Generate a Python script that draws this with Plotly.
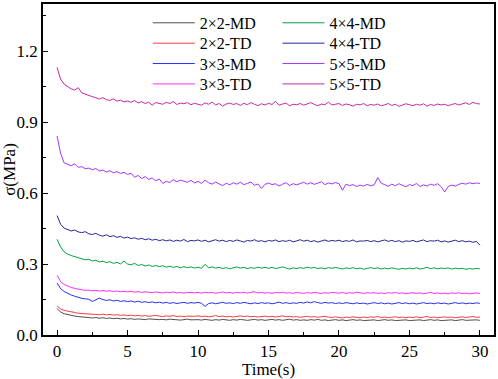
import numpy as np
import plotly.graph_objects as go

time = [round(v, 2) for v in np.arange(0, 30.001, 0.25)]

md2 = [0.112, 0.097, 0.090, 0.086, 0.082, 0.080, 0.078, 0.076, 0.075, 0.074,
       0.072, 0.074, 0.071, 0.073, 0.070, 0.072, 0.069, 0.071, 0.068, 0.070,
       0.067, 0.069, 0.066, 0.068, 0.067, 0.065, 0.068, 0.066, 0.067, 0.065,
       0.066, 0.064, 0.067, 0.065, 0.066, 0.063, 0.065, 0.067, 0.064, 0.066,
       0.065, 0.063, 0.066, 0.064, 0.062, 0.065, 0.063, 0.066, 0.064, 0.062,
       0.065, 0.063, 0.066, 0.064, 0.062, 0.064, 0.066, 0.063, 0.065, 0.062,
       0.064, 0.066, 0.063, 0.065, 0.062, 0.064, 0.067, 0.063, 0.065, 0.062,
       0.064, 0.062, 0.065, 0.063, 0.066, 0.062, 0.064, 0.061, 0.063, 0.065,
       0.062, 0.064, 0.061, 0.063, 0.065, 0.062, 0.064, 0.061, 0.063, 0.062,
       0.064, 0.061, 0.063, 0.065, 0.062, 0.064, 0.061, 0.063, 0.062, 0.064,
       0.061, 0.063, 0.062, 0.064, 0.061, 0.063, 0.065, 0.062, 0.064, 0.061,
       0.063, 0.062, 0.064, 0.061, 0.063, 0.065, 0.062, 0.063, 0.061, 0.064,
       0.062]

td2 = [0.123, 0.110, 0.104, 0.100, 0.097, 0.095, 0.092, 0.091, 0.089, 0.090,
       0.087, 0.089, 0.086, 0.088, 0.085, 0.087, 0.084, 0.086, 0.083, 0.085,
       0.082, 0.084, 0.081, 0.083, 0.080, 0.082, 0.079, 0.081, 0.083, 0.080,
       0.078, 0.081, 0.079, 0.082, 0.078, 0.080, 0.077, 0.080, 0.078, 0.079,
       0.081, 0.078, 0.080, 0.077, 0.079, 0.082, 0.078, 0.080, 0.077, 0.079,
       0.076, 0.079, 0.081, 0.078, 0.080, 0.077, 0.079, 0.076, 0.078, 0.080,
       0.077, 0.079, 0.076, 0.078, 0.081, 0.077, 0.079, 0.076, 0.078, 0.075,
       0.077, 0.079, 0.076, 0.078, 0.075, 0.077, 0.079, 0.076, 0.074, 0.077,
       0.075, 0.072, 0.076, 0.074, 0.077, 0.075, 0.073, 0.076, 0.074, 0.077,
       0.075, 0.078, 0.074, 0.076, 0.073, 0.075, 0.077, 0.074, 0.076, 0.073,
       0.076, 0.074, 0.077, 0.073, 0.075, 0.078, 0.074, 0.076, 0.073, 0.075,
       0.077, 0.074, 0.076, 0.073, 0.075, 0.077, 0.074, 0.076, 0.078, 0.075,
       0.076]

md3 = [0.220, 0.196, 0.184, 0.176, 0.169, 0.164, 0.158, 0.155, 0.153, 0.151,
       0.142, 0.149, 0.156, 0.150, 0.146, 0.149, 0.144, 0.147, 0.142, 0.145,
       0.141, 0.144, 0.139, 0.143, 0.138, 0.141, 0.137, 0.140, 0.136, 0.139,
       0.135, 0.138, 0.134, 0.137, 0.133, 0.136, 0.138, 0.134, 0.137, 0.135,
       0.138, 0.134, 0.121, 0.133, 0.136, 0.132, 0.135, 0.138, 0.134, 0.136,
       0.133, 0.137, 0.134, 0.138, 0.135, 0.132, 0.136, 0.133, 0.137, 0.134,
       0.136, 0.132, 0.135, 0.139, 0.134, 0.137, 0.133, 0.136, 0.134, 0.138,
       0.135, 0.140, 0.136, 0.141, 0.137, 0.134, 0.138, 0.135, 0.137, 0.133,
       0.136, 0.133, 0.137, 0.134, 0.132, 0.136, 0.133, 0.135, 0.131, 0.134,
       0.137, 0.133, 0.136, 0.132, 0.135, 0.131, 0.134, 0.137, 0.133, 0.136,
       0.132, 0.135, 0.131, 0.134, 0.137, 0.133, 0.135, 0.132, 0.136, 0.133,
       0.135, 0.131, 0.134, 0.137, 0.133, 0.136, 0.132, 0.135, 0.133, 0.136,
       0.134]

td3 = [0.253, 0.226, 0.214, 0.206, 0.201, 0.197, 0.193, 0.191, 0.189, 0.190,
       0.187, 0.189, 0.186, 0.188, 0.185, 0.187, 0.184, 0.186, 0.183, 0.185,
       0.182, 0.185, 0.181, 0.184, 0.180, 0.183, 0.181, 0.179, 0.182, 0.180,
       0.178, 0.181, 0.179, 0.182, 0.178, 0.180, 0.177, 0.181, 0.179, 0.178,
       0.180, 0.177, 0.181, 0.178, 0.180, 0.176, 0.179, 0.182, 0.178, 0.180,
       0.177, 0.180, 0.178, 0.181, 0.177, 0.179, 0.183, 0.178, 0.180, 0.177,
       0.179, 0.176, 0.180, 0.178, 0.181, 0.177, 0.179, 0.176, 0.180, 0.178,
       0.176, 0.179, 0.177, 0.180, 0.178, 0.176, 0.179, 0.177, 0.180, 0.178,
       0.177, 0.180, 0.176, 0.179, 0.177, 0.181, 0.178, 0.176, 0.179, 0.177,
       0.179, 0.176, 0.178, 0.175, 0.179, 0.177, 0.180, 0.176, 0.178, 0.175,
       0.177, 0.179, 0.176, 0.178, 0.175, 0.177, 0.180, 0.176, 0.178, 0.175,
       0.177, 0.174, 0.178, 0.176, 0.179, 0.175, 0.177, 0.174, 0.176, 0.178,
       0.176]

md4 = [0.405, 0.372, 0.352, 0.342, 0.336, 0.331, 0.325, 0.322, 0.318, 0.320,
       0.313, 0.316, 0.309, 0.312, 0.306, 0.310, 0.303, 0.307, 0.301, 0.313,
       0.300, 0.297, 0.303, 0.294, 0.298, 0.292, 0.296, 0.290, 0.294, 0.289,
       0.293, 0.287, 0.291, 0.286, 0.290, 0.284, 0.289, 0.285, 0.288, 0.283,
       0.287, 0.282, 0.299, 0.284, 0.288, 0.283, 0.286, 0.281, 0.285, 0.280,
       0.284, 0.288, 0.283, 0.286, 0.281, 0.285, 0.282, 0.287, 0.283, 0.286,
       0.282, 0.286, 0.281, 0.285, 0.288, 0.283, 0.279, 0.284, 0.281, 0.285,
       0.282, 0.287, 0.283, 0.286, 0.281, 0.284, 0.280, 0.285, 0.282, 0.286,
       0.283, 0.279, 0.284, 0.281, 0.285, 0.280, 0.283, 0.278, 0.282, 0.285,
       0.281, 0.284, 0.279, 0.283, 0.280, 0.284, 0.281, 0.278, 0.282, 0.279,
       0.283, 0.280, 0.284, 0.279, 0.282, 0.286, 0.281, 0.284, 0.280, 0.283,
       0.281, 0.284, 0.279, 0.283, 0.280, 0.282, 0.278, 0.281, 0.279, 0.282,
       0.280]

td4 = [0.505, 0.468, 0.452, 0.446, 0.440, 0.444, 0.436, 0.433, 0.437, 0.428,
       0.425, 0.430, 0.422, 0.418, 0.424, 0.416, 0.420, 0.413, 0.417, 0.410,
       0.414, 0.408, 0.411, 0.405, 0.409, 0.403, 0.407, 0.401, 0.405, 0.399,
       0.403, 0.398, 0.402, 0.396, 0.401, 0.397, 0.404, 0.395, 0.400, 0.398,
       0.402, 0.396, 0.401, 0.394, 0.399, 0.403, 0.397, 0.401, 0.395, 0.400,
       0.396, 0.402, 0.398, 0.393, 0.400, 0.397, 0.403, 0.396, 0.399, 0.394,
       0.400, 0.397, 0.402, 0.395, 0.399, 0.396, 0.401, 0.394, 0.398, 0.403,
       0.397, 0.401, 0.395, 0.399, 0.393, 0.398, 0.402, 0.396, 0.400, 0.397,
       0.401, 0.395, 0.399, 0.396, 0.402, 0.394, 0.398, 0.397, 0.400, 0.395,
       0.399, 0.394, 0.398, 0.402, 0.396, 0.400, 0.395, 0.399, 0.393, 0.398,
       0.396, 0.400, 0.394, 0.398, 0.402, 0.395, 0.399, 0.397, 0.401, 0.394,
       0.398, 0.393, 0.397, 0.401, 0.395, 0.399, 0.394, 0.397, 0.392, 0.396,
       0.380]

md5 = [0.842, 0.768, 0.728, 0.722, 0.716, 0.724, 0.709, 0.712, 0.703, 0.706,
       0.699, 0.704, 0.694, 0.698, 0.689, 0.695, 0.686, 0.691, 0.683, 0.688,
       0.679, 0.684, 0.667, 0.675, 0.662, 0.670, 0.658, 0.664, 0.652, 0.660,
       0.641, 0.650, 0.645, 0.657, 0.648, 0.655, 0.652, 0.646, 0.654, 0.643,
       0.650, 0.641, 0.655, 0.644, 0.638, 0.647, 0.639, 0.632, 0.642, 0.635,
       0.644, 0.638, 0.646, 0.636, 0.641, 0.647, 0.633, 0.639, 0.620, 0.637,
       0.643, 0.636, 0.640, 0.630, 0.638, 0.644, 0.632, 0.640, 0.635, 0.642,
       0.646, 0.638, 0.644, 0.637, 0.641, 0.648, 0.636, 0.643, 0.639, 0.645,
       0.640, 0.612, 0.638, 0.632, 0.636, 0.628, 0.634, 0.630, 0.637, 0.631,
       0.635, 0.666, 0.642, 0.634, 0.629, 0.638, 0.631, 0.640, 0.633, 0.627,
       0.636, 0.632, 0.641, 0.628, 0.635, 0.630, 0.638, 0.633, 0.640, 0.627,
       0.605, 0.628, 0.634, 0.630, 0.637, 0.642, 0.638, 0.644, 0.640, 0.643,
       0.641]

td5 = [1.132, 1.082, 1.061, 1.052, 1.041, 1.036, 1.046, 1.024, 1.018, 1.012,
       1.006, 1.003, 0.998, 1.004, 0.995, 0.992, 0.999, 0.989, 0.993, 0.986,
       0.990, 0.984, 0.992, 0.981, 0.987, 0.979, 0.985, 0.972, 0.983, 0.980,
       0.976, 0.984, 0.979, 0.987, 0.975, 0.981, 0.978, 0.983, 0.974, 0.980,
       0.977, 0.972, 0.982, 0.976, 0.985, 0.973, 0.979, 0.968, 0.977, 0.981,
       0.975, 0.979, 0.971, 0.980, 0.974, 0.983, 0.976, 0.970, 0.978, 0.973,
       0.980, 0.975, 0.988, 0.972, 0.977, 0.981, 0.969, 0.976, 0.974, 0.979,
       0.972, 0.978, 0.983, 0.975, 0.970, 0.977, 0.974, 0.985, 0.973, 0.976,
       0.979, 0.971, 0.977, 0.974, 0.968, 0.976, 0.973, 0.979, 0.970, 0.975,
       0.972, 0.977, 0.969, 0.974, 0.979, 0.971, 0.976, 0.967, 0.973, 0.978,
       0.974, 0.970, 0.976, 0.972, 0.978, 0.968, 0.975, 0.971, 0.977, 0.973,
       0.976, 0.970, 0.975, 0.979, 0.973, 0.977, 0.982, 0.975, 0.984, 0.979,
       0.977]

names = ["2×2-MD", "2×2-TD", "3×3-MD", "3×3-TD", "4×4-MD", "4×4-TD", "5×5-MD", "5×5-TD"]
series = [md2, td2, md3, td3, md4, td4, md5, td5]
colors = ["#505050", "#ff3b3b", "#2b2bff", "#ff2bff", "#00a33c", "#25259a", "#a335ff", "#c52aa5"]

FONT = "Liberation Serif, Times New Roman, serif"

# plot area in pixels (for legend placement)
L, R, T, B, W, H = 43, 3, 2, 44, 498, 379
PW, PH = W - L - R, H - T - B
col_px = [148, 278]
row_px = [21, 41.5, 62, 82.5]

fig = go.Figure()
legends = {}
for i, (nm, ys, c) in enumerate(zip(names, series, colors)):
    key = "legend" if i == 0 else f"legend{i + 1}"
    fig.add_trace(go.Scatter(
        x=time, y=ys, name=nm, mode="lines",
        line=dict(color=c, width=1),
        legend=key,
    ))
    cx = col_px[i // 4]
    ry = row_px[i % 4]
    legends[key] = dict(
        x=(cx - L) / PW, y=(H - B - ry) / PH,
        xanchor="left", yanchor="middle",
        font=dict(family=FONT, size=16, color="black"),
        bgcolor="rgba(0,0,0,0)", borderwidth=0,
        itemwidth=42, orientation="v",
    )

fig.update_layout(
    width=W, height=H,
    margin=dict(l=L, r=R, t=T, b=B),
    paper_bgcolor="white", plot_bgcolor="white",
    font=dict(family=FONT, size=17, color="black"),
    showlegend=True,
    xaxis=dict(
        range=[-1, 31], tickmode="linear", tick0=0, dtick=5,
        ticks="inside", ticklen=5, tickwidth=1.2, tickcolor="black",
        minor=dict(ticks="inside", ticklen=3, dtick=2.5, tick0=0, tickcolor="black", tickwidth=1),
        showline=True, linecolor="black", linewidth=1.5, mirror=True,
        showgrid=False, zeroline=False,
        title=dict(text="Time(s)", font=dict(family=FONT, size=17), standoff=0),
        tickfont=dict(family=FONT, size=17),
    ),
    yaxis=dict(
        range=[0, 1.4], tickmode="linear", tick0=0, dtick=0.3, tickformat=".1f",
        ticks="inside", ticklen=5, tickwidth=1.2, tickcolor="black",
        minor=dict(ticks="inside", ticklen=3, dtick=0.15, tick0=0, tickcolor="black", tickwidth=1),
        showline=True, linecolor="black", linewidth=1.5, mirror=True,
        showgrid=False, zeroline=False,
        title=dict(text="σ(MPa)", font=dict(family=FONT, size=17), standoff=2),
        tickfont=dict(family=FONT, size=17),
    ),
    **legends,
)

fig.write_html("out.html", config={"displayModeBar": False},
               post_script="document.body.style.margin='0';document.body.style.padding='0';")
